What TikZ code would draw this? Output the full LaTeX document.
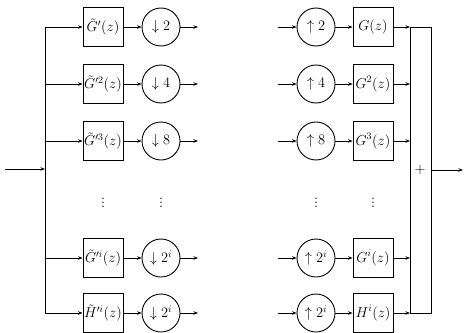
\documentclass[tikz,border=0pt]{standalone}
\usetikzlibrary{arrows.meta}
\begin{document}
\begin{tikzpicture}[x=1pt,y=-1pt,line width=0.9pt,
  filt/.style={draw,minimum width=40pt,minimum height=39pt,inner sep=0pt,
    font=\fontsize{14.5}{16}\selectfont},
  rate/.style={draw,circle,minimum size=38pt,inner sep=0pt,
    font=\fontsize{14.5}{16}\selectfont},
  sig/.style={-{Stealth[length=4.5pt,width=3.5pt]}},
  dots/.style={font=\fontsize{14.5}{16}\selectfont}]
\useasboundingbox (0,0) rectangle (465,332);

% analysis side, synthesis side, one row per band
\foreach \r/\y/\ga/\dn/\up/\gs in {
  1/27/{\tilde{G}'(z)}/{\downarrow 2}/{\uparrow 2}/{G(z)},
  2/84/{\tilde{G}'^{2}(z)}/{\downarrow 4}/{\uparrow 4}/{G^{2}(z)},
  3/141/{\tilde{G}'^{3}(z)}/{\downarrow 8}/{\uparrow 8}/{G^{3}(z)},
  4/258/{\tilde{G}'^{i}(z)}/{\downarrow 2^{i}}/{\uparrow 2^{i}}/{G^{i}(z)},
  5/313/{\tilde{H}'^{i}(z)}/{\downarrow 2^{i}}/{\uparrow 2^{i}}/{H^{i}(z)}}{
  \coordinate (b\r) at (45,\y);
  \node[filt] (g\r) at (103,\y) {$\ga$};
  \node[rate] (d\r) at (161,\y) {$\dn$};
  \coordinate (do\r) at (198,\y);
  \coordinate (ui\r) at (278,\y);
  \node[rate] (u\r) at (316,\y) {$\up$};
  \node[filt] (h\r) at (373,\y) {$\gs$};
  \coordinate (s\r) at (410,\y);
  \draw[sig] (b\r) -- (g\r);
  \draw[sig] (g\r) -- (d\r);
  \draw[sig] (d\r) -- (do\r);
  \draw[sig] (ui\r) -- (u\r);
  \draw[sig] (u\r) -- (h\r);
  \draw[sig] (h\r) -- (s\r);
}

% vertical ellipsis between the listed bands and the last ones
\node[dots] (v1) at (103,200) {$\vdots$};
\node[dots] (v2) at (161,200) {$\vdots$};
\node[dots] (v3) at (316,200) {$\vdots$};
\node[dots] (v4) at (373,200) {$\vdots$};

% input and distribution bus
\coordinate (in) at (5,169);
\coordinate (bin) at (45,169);
\draw[sig] (in) -- (bin);
\draw (b1) -- (b5);

% summing junction
\coordinate (t1) at (431,27);
\coordinate (t5) at (431,313);
\draw (s1) -- (s5);
\draw (s1) -- (t1) -- (t5) -- (s5);
\node (plus) at (420,170) {\fontsize{14.5}{16}\selectfont $+$};
\coordinate (sum) at (431,170);
\coordinate (out) at (463,170);
\draw[sig] (sum) -- (out);
\end{tikzpicture}
\end{document}
